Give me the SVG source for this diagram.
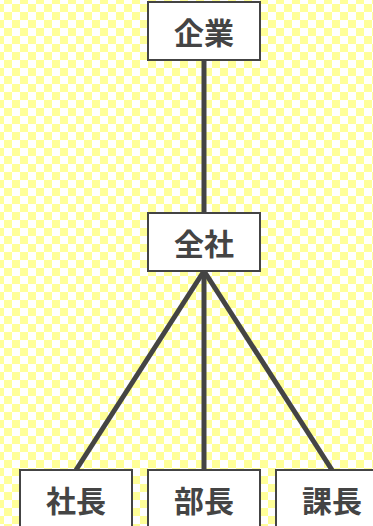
<svg xmlns="http://www.w3.org/2000/svg" width="373" height="526" viewBox="0 0 373 526">
<style>
.box{fill:#ffffff;stroke:#444444;stroke-width:2}
.lbl{font-family:"Noto Sans CJK JP","Noto Sans CJK SC",sans-serif;font-weight:bold;font-size:30px;fill:#444444;text-anchor:middle;dominant-baseline:central}
.edge{stroke:#444444;stroke-width:5;fill:none}
</style>
<defs>
<pattern id="chk" patternUnits="userSpaceOnUse" x="-4" y="-4" width="16" height="16">
<rect x="0" y="0" width="16" height="16" fill="#ffffff"/>
<rect x="8" y="0" width="8" height="8" fill="#ffff99"/>
<rect x="0" y="8" width="8" height="8" fill="#ffff99"/>
</pattern>
</defs>
<rect x="0" y="0" width="373" height="526" fill="url(#chk)"/>
<g id="connectors">
<line class="edge" x1="204" y1="60" x2="204" y2="213"/>
<line class="edge" x1="204" y1="271" x2="76" y2="470"/>
<line class="edge" x1="204" y1="271" x2="204" y2="470"/>
<line class="edge" x1="204" y1="271" x2="332" y2="470"/>
</g>
<g id="kigyo">
<rect class="box" x="148" y="2" width="112" height="58"/>
<text class="lbl" x="204" y="31">企業</text>
</g>
<g id="zensha">
<rect class="box" x="148" y="213" width="112" height="58"/>
<text class="lbl" x="204" y="242">全社</text>
</g>
<g id="shacho">
<rect class="box" x="20" y="470" width="112" height="58"/>
<text class="lbl" x="76" y="499">社長</text>
</g>
<g id="bucho">
<rect class="box" x="148" y="470" width="112" height="58"/>
<text class="lbl" x="204" y="499">部長</text>
</g>
<g id="kacho">
<rect class="box" x="276" y="470" width="112" height="58"/>
<text class="lbl" x="332" y="499">課長</text>
</g>
</svg>
